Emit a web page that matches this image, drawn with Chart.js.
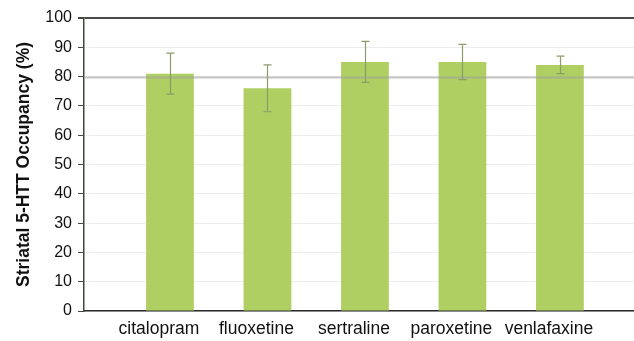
<!DOCTYPE html>
<html>
<head>
<meta charset="utf-8">
<script src="https://cdn.jsdelivr.net/npm/chart.js@4.4.1/dist/chart.umd.min.js"></script>
<style>
  html, body { margin: 0; padding: 0; background: #ffffff; }
  #wrap { width: 634px; height: 341px; position: relative; }
</style>
</head>
<body>
<div id="wrap"><canvas id="c" width="634" height="341"></canvas></div>
<script>
// Antidepressants and their mean striatal 5-HTT occupancy with SD
const drugs = ['citalopram', 'fluoxetine', 'sertraline', 'paroxetine', 'venlafaxine'];
const occupancy = [81, 76, 85, 85, 84];
const occupancySD = [7, 8, 7, 6, 3];
const yTicks = [0, 10, 20, 30, 40, 50, 60, 70, 80, 90, 100];
const referenceLevel = 80;

const barColor = '#afcf62';
const errorColor = '#8c9c6a';

// mean ± SD whiskers, placed with the chart's own scales
const errorBars = {
  id: 'errorBars',
  afterDatasetsDraw(chart) {
    const { ctx, scales: { x, y }, chartArea } = chart;
    ctx.save();
    // reference line at 80 %, drawn across the bars
    const yr = Math.round(y.getPixelForValue(referenceLevel)) + 0.5;
    ctx.strokeStyle = 'rgba(160,160,160,0.6)';
    ctx.lineWidth = 2;
    ctx.beginPath();
    ctx.moveTo(chartArea.left, yr);
    ctx.lineTo(chartArea.right, yr);
    ctx.stroke();

    ctx.strokeStyle = errorColor;
    ctx.lineWidth = 1.2;
    const cap = 4;
    occupancy.forEach((v, i) => {
      const px = Math.round(x.getPixelForValue(i)) + 0.5;
      const hi = y.getPixelForValue(v + occupancySD[i]);
      const lo = y.getPixelForValue(v - occupancySD[i]);
      ctx.beginPath();
      ctx.moveTo(px, hi); ctx.lineTo(px, lo);
      ctx.moveTo(px - cap, hi); ctx.lineTo(px + cap, hi);
      ctx.moveTo(px - cap, lo); ctx.lineTo(px + cap, lo);
      ctx.stroke();
    });
    ctx.restore();
  }
};

const font = "'Liberation Sans', Arial, sans-serif";

new Chart(document.getElementById('c'), {
  type: 'bar',
  data: {
    datasets: [{
      data: occupancy.map((v, i) => ({ x: i, y: v })),
      backgroundColor: barColor,
      borderWidth: 0,
      categoryPercentage: 1,
      barPercentage: 0.49
    }]
  },
  options: {
    responsive: false,
    animation: false,
    events: [],
    layout: { padding: { left: 0, right: 0, top: 18, bottom: 0 } },
    plugins: { legend: { display: false }, tooltip: { enabled: false } },
    scales: {
      x: {
        type: 'linear',
        offset: false,
        bounds: 'ticks',
        min: -0.882,
        max: 4.76,
        afterBuildTicks(scale) { scale.ticks = drugs.map((d, i) => ({ value: i })); },
        afterFit(scale) { scale.height = 30; },
        grid: { display: false, drawTicks: false, offset: false },
        border: { display: true, color: '#2b2b2b', width: 1.5 },
        ticks: {
          color: '#111',
          font: { family: font, size: 17.5 },
          padding: 8,
          labelOffset: -11,
          maxRotation: 0,
          autoSkip: false,
          callback: (v) => drugs[v] ?? ''
        }
      },
      y: {
        min: 0,
        max: 100,
        afterBuildTicks(scale) { scale.ticks = yTicks.map(v => ({ value: v })); },
        afterFit(scale) { scale.width = 84; },
        border: { display: true, color: '#3f4a36', width: 1.5 },
        grid: {
          color: (c) => c.tick && c.tick.value === 100 ? '#4a4a4a' : '#ededed',
          lineWidth: (c) => c.tick && c.tick.value === 100 ? 2 : 1,
          tickColor: '#3f4a36',
          tickLength: 6,
          drawTicks: true
        },
        ticks: {
          color: '#111',
          font: { family: font, size: 16 },
          padding: 6
        },
        title: {
          display: true,
          text: 'Striatal 5-HTT Occupancy (%)',
          color: '#111',
          font: { family: font, size: 17.5, weight: 'bold' },
          padding: { top: 14, bottom: 0 }
        }
      }
    }
  },
  plugins: [errorBars]
});
</script>
</body>
</html>
